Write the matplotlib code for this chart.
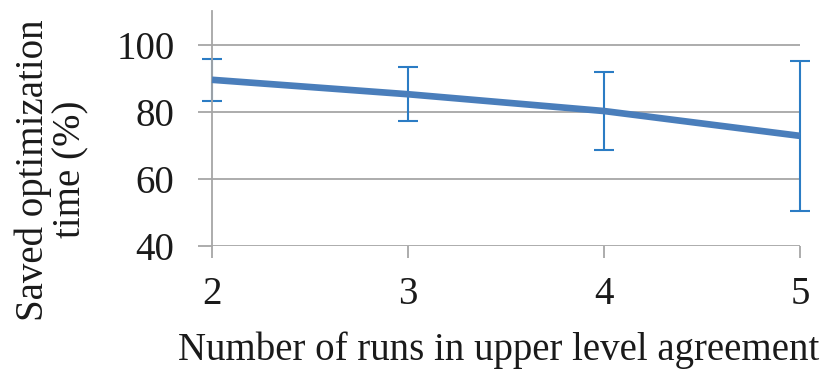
import matplotlib
matplotlib.use("Agg")
import matplotlib.pyplot as plt
from matplotlib import font_manager

runs = [2, 3, 4, 5]
saved_time = [89.5, 85.2, 80.2, 72.8]
saved_err = [6.3, 8.1, 11.5, 22.4]
y_ticks = [40, 60, 80, 100]

serif_path = font_manager.findfont("Liberation Serif")
tick_font = font_manager.FontProperties(fname=serif_path, size=28)
label_font = font_manager.FontProperties(fname=serif_path, size=28)
text_color = "#1a1a1a"
grid_color = "#a6a6a6"

fig = plt.figure(figsize=(8.23, 3.69), dpi=100)
ax = fig.add_axes([0.2576, 0.3333, 0.7144, 0.637])

for y in y_ticks:
    ax.axhline(y, color=grid_color, linewidth=1.3, zorder=1)

ax.errorbar(runs, saved_time, yerr=saved_err, fmt="none", ecolor="#2b7cc4",
            elinewidth=1.5, capsize=7.5, capthick=1.5, zorder=2, clip_on=False)
ax.plot(runs, saved_time, color="#4a7ebb", linewidth=4.8,
        solid_capstyle="butt", zorder=3, clip_on=False)

ax.set_xlim(2, 5)
ax.set_ylim(40, 110)
ax.set_xticks(runs)
ax.set_xticklabels([str(r) for r in runs], fontproperties=tick_font, color=text_color)
ax.set_yticks(y_ticks)
ax.set_yticklabels([str(t) for t in y_ticks], fontproperties=tick_font, color=text_color)

for side in ["top", "right", "bottom"]:
    ax.spines[side].set_visible(False)
ax.spines["left"].set_color(grid_color)
ax.spines["left"].set_linewidth(1.3)

ax.tick_params(axis="y", length=10, width=1.3, color=grid_color, pad=17)
ax.tick_params(axis="x", length=8.6, width=1.3, color=grid_color, pad=13)

fig.text(0.606, 0.05, "Number of runs in upper level agreement",
         ha="center", va="center", fontproperties=label_font, color=text_color)
fig.text(0.063, 0.54, "Saved optimization\ntime (%)", rotation=90,
         ha="center", va="center", fontproperties=label_font, color=text_color,
         linespacing=1.0, multialignment="center")

fig.savefig("out.png", dpi=100)
